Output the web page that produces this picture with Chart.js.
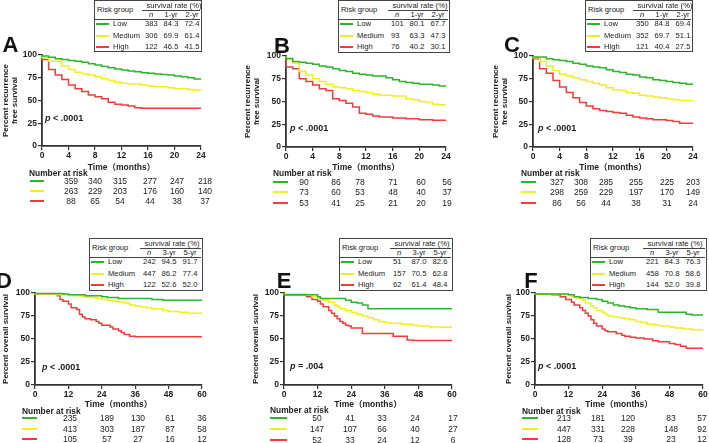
<!doctype html>
<html>
<head>
<meta charset="utf-8" />
<title>Risk groups - survival curves</title>
<script src="https://cdn.jsdelivr.net/npm/chart.js@4"></script>
<style>
  body { margin:0; background:#fff; font-family: Arial, "Liberation Sans", "Noto Sans CJK SC", sans-serif; color:#222; }
  #fig { position:relative; width:709px; height:443px; overflow:hidden; }
  #fig canvas { position:absolute; }
  .t { position:absolute; white-space:nowrap; line-height:1; }
  .box { position:absolute; border:1.5px solid #444; box-sizing:border-box; background:#fff; font-size:7.6px; }
  .letter { font-size:22px; font-weight:bold; color:#111; }
  .pval { font-size:9px; font-weight:bold; }
  .nar { font-size:8.4px; font-weight:bold; }
  .rk { font-size:8.5px; }
  .ln { position:absolute; height:2px; }
  .hl { position:absolute; height:1px; background:#444; }
</style>
</head>
<body>
<div id="fig"></div>

<script>
// ---- data ----
const groups = ["Low", "Medium", "High"];
const rfsHeads = ["n", "1-yr", "2-yr"];
const osHeads  = ["n", "3-yr", "5-yr"];

// A: recurrence free survival
const aLow  = [[0,100],[1,99],[2,97.5],[3,96],[4,95],[5,94],[6,93],[7,92],[8,90.5],[9,89],[10,87.5],[11,86],[12,84.5],[13,83.5],[14,82.5],[15,81.5],[16,80.5],[17,80],[18,79],[19,78.5],[20,78],[21,77],[22,76],[23,75],[24,73.5]];
const aMed  = [[0,100],[1,97],[3,93],[4,88],[5,84],[6,81],[7,79],[8,78],[9,76],[10,74],[11,72],[12,70],[13,69],[15,68],[16,67],[17,66],[19,65],[20,64],[22,63],[23,62],[24,61.4]];
const aHigh = [[0,100],[1,95],[2,84],[3,78],[4,73],[5,67],[6,63],[7,60],[8,56],[9,54],[10,52],[11,48],[12,46],[13,45],[14,44],[15,42],[24,41.5]];
const tabA  = [["383","84.3","72.4"],["306","69.9","61.4"],["122","46.5","41.5"]];
const riskA = [[359,340,315,277,247,218],[263,229,203,176,160,140],[88,65,54,44,38,37]];

// B
const bLow  = [[0,100],[1,97],[2,94],[3,93],[4,92],[5,91],[6,89],[7,88],[8,86],[9,84],[10,83],[11,81],[12,80],[13,79],[15,78],[16,76],[17,74],[18,72],[19,71],[20,70],[22,69],[23,68],[24,67]];
const bMed  = [[0,100],[1,98],[2,92],[3,83],[4,79],[5,75],[6,72],[7,69],[8,66],[9,65],[10,64],[11,62],[12,61],[13,60],[14,58],[16,57],[18,56],[19,53],[20,52],[21,50],[22,49],[23,47],[24,46.5]];
const bHigh = [[0,100],[1,88],[2,86],[3,75],[4,72],[5,68],[6,64],[7,62],[8,53],[9,51],[10,48],[11,44],[12,37],[13,36],[14,34],[16,33],[18,32],[20,31],[22,30],[24,29.5]];
const tabB  = [["101","80.1","67.7"],["93","63.3","47.3"],["76","40.2","30.1"]];
const riskB = [[90,86,78,71,60,56],[73,60,53,48,40,37],[53,41,25,21,20,19]];

// C
const cLow  = [[0,100],[2,99],[3,97],[4,96],[5,95],[6,94],[7,92],[8,91],[9,89],[10,88],[11,87],[12,85],[13,83],[14,82],[15,80],[16,79],[17,77],[18,76],[19,74],[20,73],[21,72],[22,71],[23,70],[24,69]];
const cMed  = [[0,100],[1,98],[2,94],[3,89],[4,84],[5,80],[6,78],[7,76],[8,74],[9,72],[10,70],[11,68],[12,65],[13,63],[14,62],[15,60],[16,59],[17,57],[18,56],[19,55],[20,54],[21,53],[22,52],[24,51]];
const cHigh = [[0,100],[1,97],[2,86],[3,81],[4,73],[5,66],[6,60],[7,54],[8,49],[9,45],[10,42],[11,40],[12,39],[13,38],[14,37],[15,35],[16,33],[17,32],[18,31],[20,30],[21,29],[22,28],[24,26]];
const tabC  = [["350","84.8","69.4"],["352","69.7","51.1"],["121","40.4","27.5"]];
const riskC = [[327,308,285,255,225,203],[298,259,229,197,170,149],[86,56,44,38,31,24]];

// D: overall survival
const dLow  = [[0,100],[10,99.5],[12,99],[18,98],[24,97],[26,96],[30,95],[42,94],[46,93],[48,92],[60,92]];
const dMed  = [[0,100],[8,99],[14,98],[17,97],[20,96],[22,95],[24,94],[26,93],[28,92],[30,91],[32,90],[34,89],[36,87],[38,86],[40,85],[42,84],[46,83],[48,81],[52,80],[55,79],[58,78],[60,78]];
const dHigh = [[0,100],[8,99],[9,97],[10,93],[12,91],[13,88],[15,84],[16,82],[17,77],[18,74],[20,72],[22,71],[23,69],[24,67],[27,65],[28,63],[30,61],[31,59],[32,57],[34,55],[36,53],[60,52.5]];
const tabD  = [["242","94.5","91.7"],["447","86.2","77.4"],["122","52.6","52.0"]];
const riskD = [[235,189,130,61,36],[413,303,187,87,58],[105,57,27,16,12]];

// E
const eLow  = [[0,100],[12,98],[13,96],[22,94],[24,92],[26,90],[28,89],[30,87],[54,83],[60,83]];
const eMed  = [[0,100],[8,99],[10,98],[12,96],[14,94],[16,92],[18,90],[19,87],[20,85],[22,83],[24,81],[26,79],[28,77],[30,75],[32,73],[34,71],[36,69],[38,68],[42,67],[46,66],[48,65],[52,64],[57,63],[60,62.8]];
const eHigh = [[0,100],[8,98],[10,96],[12,93],[13,91],[14,88],[16,85],[17,81],[18,78],[19,75],[20,72],[21,69],[22,67],[23,65],[24,64],[28,62],[39,56],[44,53],[46,49],[60,48.4]];
const tabE  = [["51","87.0","82.6"],["157","70.5","62.8"],["62","61.4","48.4"]];
const riskE = [[50,41,33,24,17],[147,107,66,40,27],[52,33,24,12,6]];

// F
const fLow  = [[0,100],[12,99],[14,98],[16,96],[19,95],[22,94],[24,93],[26,91],[28,89],[30,87],[32,86],[34,85],[36,84],[40,83],[44,82],[54,79],[56,77],[58,76],[60,76]];
const fMed  = [[0,100],[10,99],[13,98],[15,96],[17,94],[18,92],[20,89],[21,86],[22,84],[24,81],[25,79],[26,77],[28,75],[30,74],[32,73],[34,72],[36,71],[38,69],[40,68],[43,66],[45,65],[48,64],[50,63],[53,62],[56,61],[58,60],[60,60]];
const fHigh = [[0,100],[6,99],[9,98],[11,96],[13,93],[14,90],[16,87],[17,84],[18,81],[19,78],[20,75],[21,71],[22,67],[24,64],[25,61],[26,59],[29,58],[31,56],[32,54],[34,53],[36,52],[39,51],[42,50],[44,48],[48,47],[50,45],[52,44],[54,42],[56,40],[60,40]];
const tabF  = [["221","84.3","76.3"],["458","70.8","58.6"],["144","52.0","39.8"]];
const riskF = [[213,181,120,83,57],[447,331,228,148,92],[128,73,39,23,12]];

// ---- style / layout ----
const lineColors = ["#2db52d", "#f0ef22", "#f23c3c"];
const FONT = 'Arial, "Liberation Sans", "Noto Sans CJK SC", sans-serif';
Chart.defaults.font.family = FONT;
Chart.defaults.color = "#222";

const rfsTitle = ["Percent recurrence", "free survival"];
const osTitle = "Percent overall survival";

const panels = [
  {id:"A", series:[aLow,aMed,aHigh], tab:tabA, risk:riskA, heads:rfsHeads, ytitle:rfsTitle, xmax:24, xstep:4, pv:"<i>p</i> &lt; .0001",
   L:42, R:201, T:55, B:146, cl:0, xh:27, letter:[10.5,45], p:[45,118], box:[94,0,108,52],
   nar:[29,173], lineX:[30,44], rows:[181,191,201], cols:[71,95,120,150,177,205]},
  {id:"B", series:[bLow,bMed,bHigh], tab:tabB, risk:riskB, heads:rfsHeads, ytitle:rfsTitle, xmax:24, xstep:4, pv:"<i>p</i> &lt; .0001",
   L:286, R:446, T:56, B:147, cl:242, xh:26, letter:[282,46], p:[290,128], box:[338,0,112,53],
   nar:[273,173], lineX:[273,288], rows:[182,192,203], cols:[304,336,360,393,421,447]},
  {id:"C", series:[cLow,cMed,cHigh], tab:tabC, risk:riskC, heads:rfsHeads, ytitle:rfsTitle, xmax:24, xstep:4, pv:"<i>p</i> &lt; .0001",
   L:533, R:693, T:56, B:147, cl:490, xh:26, letter:[512,45], p:[538,128], box:[585,0,108,52],
   nar:[521,173], lineX:[521,536], rows:[182,192,203], cols:[557,581,606,636,667,693]},
  {id:"D", series:[dLow,dMed,dHigh], tab:tabD, risk:riskD, heads:osHeads, ytitle:osTitle, xmax:60, xstep:12, pv:"<i>p</i> &lt; .0001",
   L:35, R:202, T:293, B:385, cl:0, xh:25, letter:[4,281], p:[42,367], box:[89,238,114,53],
   nar:[22,411], lineX:[22,37], rows:[418,429,439], cols:[70,107,138,170,202]},
  {id:"E", series:[eLow,eMed,eHigh], tab:tabE, risk:riskE, heads:osHeads, ytitle:osTitle, xmax:60, xstep:12, pv:"<i>p</i> = .004",
   L:284, R:452, T:293, B:385, cl:250, xh:25, letter:[284,281], p:[290,366], box:[339,238,114,53],
   nar:[270,410], lineX:[270,287], rows:[418,429,440], cols:[317,350,382,415,453]},
  {id:"F", series:[fLow,fMed,fHigh], tab:tabF, risk:riskF, heads:osHeads, ytitle:osTitle, xmax:60, xstep:12, pv:"<i>p</i> &lt; .0001",
   L:535, R:703, T:293, B:385, cl:503, xh:25, letter:[531,281], p:[538,366], box:[590,238,117,53],
   nar:[522,411], lineX:[522,538], rows:[418,429,439], cols:[564,598,628,671,702]}
];

const fig = document.getElementById("fig");

function put(parent, x, y, html, cls, align) {
  const s = document.createElement("span");
  s.className = "t " + (cls || "");
  s.innerHTML = html;
  s.style.left = x + "px";
  s.style.top = y + "px";
  s.style.transform = align === "l" ? "translate(0,-50%)" : "translate(-50%,-50%)";
  parent.appendChild(s);
  return s;
}

function seg(parent, x1, x2, y, color, cls) {
  const d = document.createElement("div");
  d.className = cls || "ln";
  d.style.left = x1 + "px";
  d.style.width = (x2 - x1) + "px";
  d.style.top = y + "px";
  if (color) d.style.background = color;
  parent.appendChild(d);
}

function makeChart(p) {
  const c = document.createElement("canvas");
  const left = p.cl, top = p.T - 8;
  const w = Math.min(p.R + 7, 709) - left, h = p.B - top + p.xh;
  c.width = w; c.height = h;
  c.style.left = left + "px"; c.style.top = top + "px";
  c.style.width = w + "px"; c.style.height = h + "px";
  fig.appendChild(c);
  const tickFont = {size: 8.5, weight: "bold"};
  new Chart(c, {
    type: "line",
    data: {
      datasets: p.series.map((pts, i) => ({
        label: groups[i],
        data: pts.map(d => ({x: d[0], y: d[1]})),
        borderColor: lineColors[i],
        borderWidth: 1.5,
        stepped: "after",
        pointRadius: 0,
        fill: false,
        clip: 3
      }))
    },
    options: {
      responsive: false,
      animation: false,
      layout: {padding: {left: 0, right: left + w - p.R, top: 8, bottom: 0}},
      plugins: {legend: {display: false}, tooltip: {enabled: false}},
      scales: {
        x: {
          type: "linear", min: 0, max: p.xmax,
          ticks: {stepSize: p.xstep, font: tickFont, color: "#222", padding: 1, maxRotation: 0, autoSkip: false},
          grid: {drawOnChartArea: false, tickLength: 4, color: "#333", lineWidth: 1.2},
          border: {color: "#333", width: 1.8},
          title: {display: true, text: "Time（months）", font: {size: 8.5, weight: "bold"}, color: "#222", padding: 0},
          afterFit(s) { s.height = p.xh; }
        },
        y: {
          min: 0, max: 100,
          ticks: {stepSize: 25, font: tickFont, color: "#222", padding: 1},
          grid: {drawOnChartArea: false, tickLength: 4, color: "#333", lineWidth: 1.2},
          border: {color: "#333", width: 1.8},
          title: {display: true, text: p.ytitle, font: {size: 8, weight: "bold", lineHeight: 1.15}, color: "#222", padding: {top: 1, bottom: 0}},
          afterFit(s) { s.width = p.L - left; }
        }
      }
    }
  });
}

function makeBox(p) {
  const [bx, by, bw, bh] = p.box;
  const box = document.createElement("div");
  box.className = "box";
  box.style.left = bx + "px"; box.style.top = by + "px";
  box.style.width = bw + "px"; box.style.height = bh + "px";
  fig.appendChild(box);
  const shift = Math.round((bw - 108) / 2);
  const nx = 50 + shift, r1 = 76 + shift, r2 = 97 + shift;
  put(box, 2, 9, "Risk group", "", "l");
  put(box, r1 + 3, 4.5, "survival rate (%)", "", "c");
  seg(box, nx - 3, bw - 3, 8.5, null, "hl");
  put(box, nx + 6, 13.5, "<i>" + p.heads[0] + "</i>", "", "c");
  put(box, r1, 13.5, p.heads[1], "", "c");
  put(box, r2, 13.5, p.heads[2], "", "c");
  seg(box, 0, bw - 3, 17.5, null, "hl");
  const ry = [23, 34.5, 46];
  groups.forEach((g, i) => {
    seg(box, 1, 14, ry[i] - 1, lineColors[i], "ln");
    put(box, 18, ry[i], g, "", "l");
    put(box, nx, ry[i], p.tab[i][0], "", "l");
    put(box, r1, ry[i], p.tab[i][1], "", "c");
    put(box, r2, ry[i], p.tab[i][2], "", "c");
  });
}

function makeRisk(p) {
  put(fig, p.nar[0], p.nar[1], "Number at risk", "nar", "l");
  p.risk.forEach((row, i) => {
    seg(fig, p.lineX[0], p.lineX[1], p.rows[i] - 1, lineColors[i], "ln");
    row.forEach((v, j) => put(fig, p.cols[j], p.rows[i], String(v), "rk", "c"));
  });
}

panels.forEach(p => {
  makeChart(p);
  makeBox(p);
  makeRisk(p);
  put(fig, p.letter[0], p.letter[1], p.id, "letter", "c");
  put(fig, p.p[0], p.p[1], p.pv, "pval", "l");
});
</script>
</body>
</html>
